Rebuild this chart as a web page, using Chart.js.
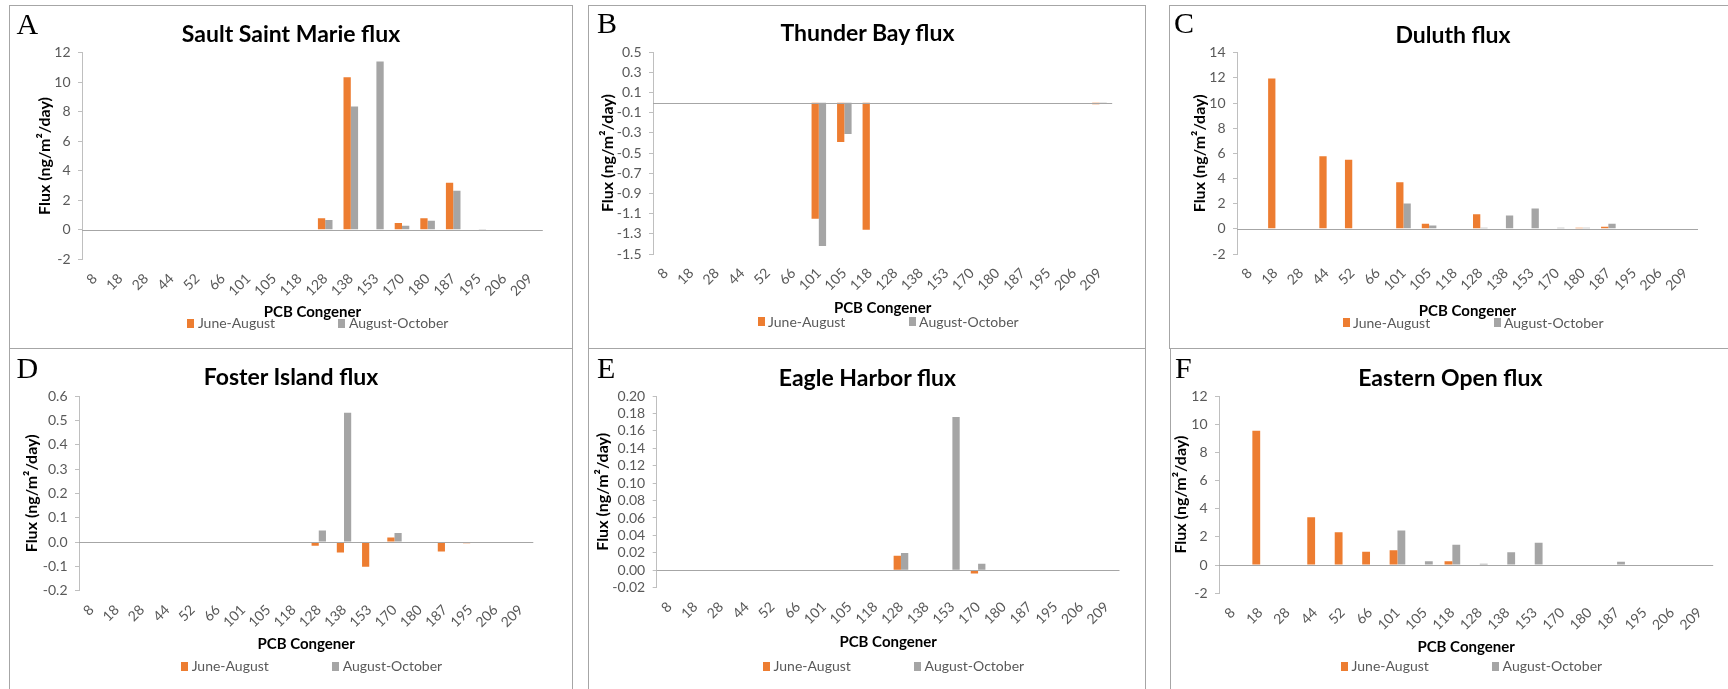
<!DOCTYPE html>
<html>
<head>
<meta charset="utf-8">
<script src="https://cdn.jsdelivr.net/npm/chart.js@4.4.1/dist/chart.umd.min.js"></script>
<style>
html,body{margin:0;padding:0;background:#fff;overflow:hidden;}
#page{position:relative;width:1728px;height:689px;overflow:hidden;background:#fff;}
.panel{position:absolute;border:1px solid #a6a6a6;box-sizing:border-box;}
canvas.cv{position:absolute;}
.letter{position:absolute;font-family:"Liberation Serif","Times New Roman",serif;font-size:30px;line-height:30px;color:#000;white-space:nowrap;}
.title{position:absolute;font-family:Lato,sans-serif;font-weight:bold;font-size:23px;line-height:23px;color:#000;white-space:nowrap;transform:translateX(-50%);}
.legtxt{position:absolute;font-family:Lato,sans-serif;font-size:14px;line-height:14px;color:#595959;white-space:nowrap;}
.sw{position:absolute;width:7px;height:9px;}
</style>
</head>
<body>
<div id="page"></div>
<script>
// ---------------- DATA ----------------
const categories = ['8','18','28','44','52','66','101','105','118','128','138','153','170','180','187','195','206','209'];
const seriesNames = ['June-August','August-October'];
const panelLetters = ['A','B','C','D','E','F'];
const panelTitles = ['Sault Saint Marie flux','Thunder Bay flux','Duluth flux','Foster Island flux','Eagle Harbor flux','Eastern Open flux'];
const xAxisTitle = 'PCB Congener';
const yAxisTitle = 'Flux (ng/m\u00B2/day)';

// Sault Saint Marie
const saultJuneAug = [0,0,0,0,0,0,0,0,0,0.79,10.33,0,0.46,0.79,3.18,0,0,0];
const saultAugOct  = [0,0,0,0,0,0,0,0,0,0.67,8.35,11.4,0.27,0.62,2.64,0.06,0,0];
const saultTicks   = ['-2','0','2','4','6','8','10','12'];
// Thunder Bay
const thunderJuneAug = [0,0,0,0,0,0,-1.15,-0.39,-1.26,0,0,0,0,0,0,0,0,-0.015];
const thunderAugOct  = [0,0,0,0,0,0,-1.42,-0.31,0,0,0,0,0,0,0,0,0,-0.005];
const thunderTicks   = ['-1.5','-1.3','-1.1','-0.9','-0.7','-0.5','-0.3','-0.1','0.1','0.3','0.5'];
// Duluth
const duluthJuneAug = [0,11.95,0,5.76,5.49,0,3.70,0.40,0,1.16,0,0,0,0.08,0.16,0,0,0];
const duluthAugOct  = [0,0,0,0,0,0,2.02,0.26,0,0.08,1.06,1.61,0.08,0.08,0.40,0,0,0];
const duluthTicks   = ['-2','0','2','4','6','8','10','12','14'];
// Foster Island
const fosterJuneAug = [0,0,0,0,0,0,0,0,0,-0.015,-0.043,-0.102,0.019,0,-0.039,-0.005,0,0];
const fosterAugOct  = [0,0,0,0,0,0,0,0,0,0.047,0.531,0,0.037,0,0,0,0,0];
const fosterTicks   = ['-0.2','-0.1','0.0','0.1','0.2','0.3','0.4','0.5','0.6'];
// Eagle Harbor
const eagleJuneAug = [0,0,0,0,0,0,0,0,0,0.0168,0,0,-0.0038,0,0,0,0,0];
const eagleAugOct  = [0,0,0,0,0,0,0,0,0,0.0199,0,0.176,0.0076,0,0,0,0,0];
const eagleTicks   = ['-0.02','0.00','0.02','0.04','0.06','0.08','0.10','0.12','0.14','0.16','0.18','0.20'];
// Eastern Open
const easternJuneAug = [0,9.54,0,3.40,2.34,0.94,1.06,0,0.28,0,0,0,0,0,-0.07,0,0,0];
const easternAugOct  = [0,0,0,0,0,0,2.46,0.28,1.44,0.09,0.92,1.58,0,0,0.24,0,0,0];
const easternTicks   = ['-2','0','2','4','6','8','10','12'];

const panelData = [
  [saultJuneAug, saultAugOct, saultTicks],
  [thunderJuneAug, thunderAugOct, thunderTicks],
  [duluthJuneAug, duluthAugOct, duluthTicks],
  [fosterJuneAug, fosterAugOct, fosterTicks],
  [eagleJuneAug, eagleAugOct, eagleTicks],
  [easternJuneAug, easternAugOct, easternTicks]
];

// ---------------- LAYOUT (page pixels) ----------------
const layoutSpecs = [
  {box:[9,5,572,348],    L:82,    R:542.8,  T:52.7, B:259.3, yTitleCX:44.8,   xTitleCY:312.5, legendCY:323, titleCX:291,    titleCY:33.8,  letterX:16.5, letterCapTop:14},
  {box:[588,5,1145,348], L:653,   R:1112.2, T:52.3, B:254,   yTitleCX:607.9,  xTitleCY:308,   legendCY:321.7, titleCX:867.4, titleCY:33.3, letterX:597,  letterCapTop:13},
  {box:[1169,5,1740,348],L:1237,  R:1698,   T:52.7, B:254,   yTitleCX:1199.8, xTitleCY:311,   legendCY:322.5, titleCX:1453,  titleCY:35,   letterX:1174, letterCapTop:13},
  {box:[9,348,572,700],  L:79,    R:533.3,  T:396,  B:590.7, yTitleCX:32.3,   xTitleCY:644,   legendCY:666, titleCX:291,    titleCY:377.5, letterX:16.5, letterCapTop:358.3},
  {box:[588,348,1145,700],L:656.7,R:1119.5, T:396,  B:587.7, yTitleCX:603,    xTitleCY:642.5, legendCY:666, titleCX:867.4,  titleCY:378.3, letterX:597,  letterCapTop:358},
  {box:[1170,348,1740,700],L:1219,R:1713.2, T:396,  B:593.3, yTitleCX:1181.3, xTitleCY:647.5, legendCY:666, titleCX:1450.3, titleCY:378.3, letterX:1175, letterCapTop:358}
];

const ORANGE = '#ED7D31';
const GRAY = '#A5A5A5';
const AXIS = '#BFBFBF';
const TICK_FONT = 14;
const YT_FONT = 16;
const XT_FONT = 15;

Chart.defaults.font.family = 'Lato, sans-serif';

const zeroLine = {
  id: 'zeroLine',
  afterDatasetsDraw(chart) {
    const ys = chart.scales.y;
    const y = Math.round(ys.getPixelForValue(0)) + 0.5;
    const {left, right} = chart.chartArea;
    const ctx = chart.ctx;
    ctx.save();
    ctx.strokeStyle = '#A6A6A6';
    ctx.lineWidth = 1;
    ctx.beginPath();
    ctx.moveTo(left, y);
    ctx.lineTo(right, y);
    ctx.stroke();
    ctx.restore();
  }
};

const page = document.getElementById('page');

function el(tag, cls, styles, text) {
  const e = document.createElement(tag);
  if (cls) e.className = cls;
  Object.assign(e.style, styles || {});
  if (text !== undefined) e.textContent = text;
  page.appendChild(e);
  return e;
}

layoutSpecs.forEach((s) => {
  const [x0, y0, x1, y1] = s.box;
  el('div', 'panel', {left: x0 + 'px', top: y0 + 'px', width: (x1 - x0 + 1) + 'px', height: (y1 - y0 + 1) + 'px'});
});

layoutSpecs.forEach((s, i) => {
  const [x0, y0, x1, y1] = s.box;
  const cw = Math.min(x1, 1728) - x0, ch = Math.min(y1, 689) - y0;
  const cv = document.createElement('canvas');
  cv.className = 'cv';
  cv.width = cw; cv.height = ch;
  cv.style.left = x0 + 'px'; cv.style.top = y0 + 'px';
  cv.style.width = cw + 'px'; cv.style.height = ch + 'px';
  page.appendChild(cv);

  const [june, aug, tickLabels] = panelData[i];
  const tickVals = tickLabels.map(Number);
  const dec = (tickLabels[tickLabels.length - 1].split('.')[1] || '').length;
  const yMin = tickVals[0], yMax = tickVals[tickVals.length - 1];
  const step = (yMax - yMin) / (tickVals.length - 1);

  const yLh = YT_FONT * 1.2, xLh = XT_FONT * 1.2;
  const yScaleLeft = s.yTitleCX - yLh / 2;
  const Wy = s.L - yScaleLeft;
  const padLeft = yScaleLeft - x0;
  const padRight = x0 + cw - s.R;
  const padTop = s.T - y0;
  const Hx = s.xTitleCY + xLh / 2 - s.B;
  const padBottom = y0 + ch - s.B - Hx;

  new Chart(cv, {
    type: 'bar',
    data: {
      labels: categories,
      datasets: [
        {label: seriesNames[0], data: june, backgroundColor: ORANGE, categoryPercentage: 0.57, barPercentage: 1.0},
        {label: seriesNames[1], data: aug, backgroundColor: GRAY, categoryPercentage: 0.57, barPercentage: 1.0}
      ]
    },
    options: {
      responsive: false,
      animation: false,
      devicePixelRatio: 1,
      layout: {padding: {left: padLeft, right: padRight, top: padTop, bottom: padBottom}},
      plugins: {legend: {display: false}, title: {display: false}, tooltip: {enabled: false}},
      scales: {
        x: {
          grid: {display: false, drawTicks: false},
          border: {display: false},
          ticks: {autoSkip: false, maxRotation: 45, minRotation: 45, padding: 11, font: {size: TICK_FONT}, color: '#595959'},
          title: {display: true, text: xAxisTitle, font: {size: XT_FONT, weight: 'bold'}, color: '#000', padding: 0},
          afterFit: sc => { sc.height = Hx; }
        },
        y: {
          min: yMin, max: yMax,
          ticks: {stepSize: step, autoSkip: false, padding: 7.5, font: {size: TICK_FONT}, color: '#595959',
                  callback: v => (Math.abs(v) < 1e-9 ? 0 : v).toFixed(dec)},
          grid: {drawOnChartArea: false, drawTicks: true, tickLength: 4, color: AXIS, tickColor: AXIS},
          border: {display: true, color: AXIS},
          title: {display: true, text: yAxisTitle, font: {size: YT_FONT, weight: 'bold'}, color: '#000', padding: 0},
          afterFit: sc => { sc.width = Wy; }
        }
      }
    },
    plugins: [zeroLine]
  });

  // panel letter
  el('div', 'letter', {left: s.letterX + 'px', top: (s.letterCapTop - 0.1755 * 30) + 'px'}, panelLetters[i]);
  // chart title
  el('div', 'title', {left: s.titleCX + 'px', top: (s.titleCY - 0.529 * 23) + 'px'}, panelTitles[i]);
  // legend
  const pc = (s.L + s.R) / 2;
  const items = [[pc - 125, ORANGE, seriesNames[0]], [pc + 26, GRAY, seriesNames[1]]];
  items.forEach(([bx, col, txt]) => {
    el('div', 'sw', {left: bx + 'px', top: (s.legendCY - 4.5) + 'px', background: col});
    el('div', 'legtxt', {left: (bx + 10.5) + 'px', top: (s.legendCY - 7) + 'px'}, txt);
  });
});
</script>
</body>
</html>
